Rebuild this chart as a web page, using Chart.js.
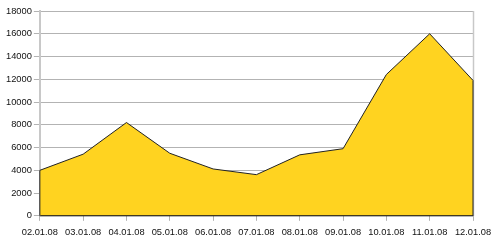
<!DOCTYPE html>
<html>
<head>
<meta charset="utf-8">
<script src="https://cdn.jsdelivr.net/npm/chart.js@4"></script>
<style>
  html, body { margin: 0; padding: 0; background: #fff; }
  #wrap { width: 500px; height: 244px; }
</style>
</head>
<body>
<div id="wrap"><canvas id="areaChart" width="500" height="244"></canvas></div>
<script>
// values
let dates = ['02.01.08', '03.01.08', '04.01.08', '05.01.08', '06.01.08', '07.01.08',
             '08.01.08', '09.01.08', '10.01.08', '11.01.08', '12.01.08'];
let amounts = [4000, 5420, 8200, 5500, 4120, 3620, 5360, 5900, 12420, 16000, 11900];
let yTicks = [0, 2000, 4000, 6000, 8000, 10000, 12000, 14000, 16000, 18000];

let ctx = document.getElementById('areaChart').getContext('2d');

// light grey wall line on the right, dark outline round the filled area
let outline = {
    id: 'outline',
    beforeDatasetsDraw(chart) {
        let a = chart.chartArea;
        let c = chart.ctx;
        c.save();
        c.strokeStyle = '#c8c8c8';
        c.lineWidth = 1.5;
        c.beginPath();
        c.moveTo(a.right + 0.5, a.top);
        c.lineTo(a.right + 0.5, a.bottom);
        c.stroke();
        c.restore();
    },
    afterDatasetsDraw(chart) {
        let pts = chart.getDatasetMeta(0).data;
        let base = chart.scales.y.getPixelForValue(0);
        let c = chart.ctx;
        c.save();
        c.strokeStyle = '#222';
        c.lineWidth = 1;
        c.beginPath();
        c.moveTo(pts[0].x, base);
        pts.forEach((p) => c.lineTo(p.x, p.y));
        c.lineTo(pts[pts.length - 1].x, base);
        c.closePath();
        c.stroke();
        c.restore();
    }
};

let areaChart = new Chart(ctx, {
    type: 'line',
    data: {
        labels: dates,
        datasets: [{
            data: amounts,
            fill: 'origin',
            backgroundColor: '#ffd320',
            borderColor: '#222',
            borderWidth: 0,
            pointRadius: 0,
            tension: 0
        }]
    },
    options: {
        responsive: false,
        animation: false,
        layout: {
            padding: { left: 4, right: 27, top: 11, bottom: 0 }
        },
        scales: {
            x: {
                offset: false,
                grid: {
                    drawOnChartArea: false,
                    drawTicks: true,
                    tickLength: 5,
                    tickColor: '#b3b3b3'
                },
                border: { color: '#222', width: 1 },
                ticks: {
                    maxRotation: 0,
                    autoSkip: false,
                    padding: 6,
                    color: '#111',
                    font: { family: 'Liberation Sans', size: 9.3 }
                }
            },
            y: {
                min: 0,
                max: 18000,
                afterBuildTicks: (scale) => {
                    scale.ticks = yTicks.map((v) => ({ value: v }));
                },
                grid: {
                    color: '#b3b3b3',
                    tickLength: 6,
                    tickColor: '#b3b3b3'
                },
                border: { color: '#c8c8c8', width: 2 },
                ticks: {
                    padding: 2,
                    color: '#111',
                    callback: (v) => String(v),
                    font: { family: 'Liberation Sans', size: 9.3 }
                }
            }
        },
        plugins: {
            legend: { display: false },
            tooltip: { enabled: false }
        }
    },
    plugins: [outline]
});
</script>
</body>
</html>
